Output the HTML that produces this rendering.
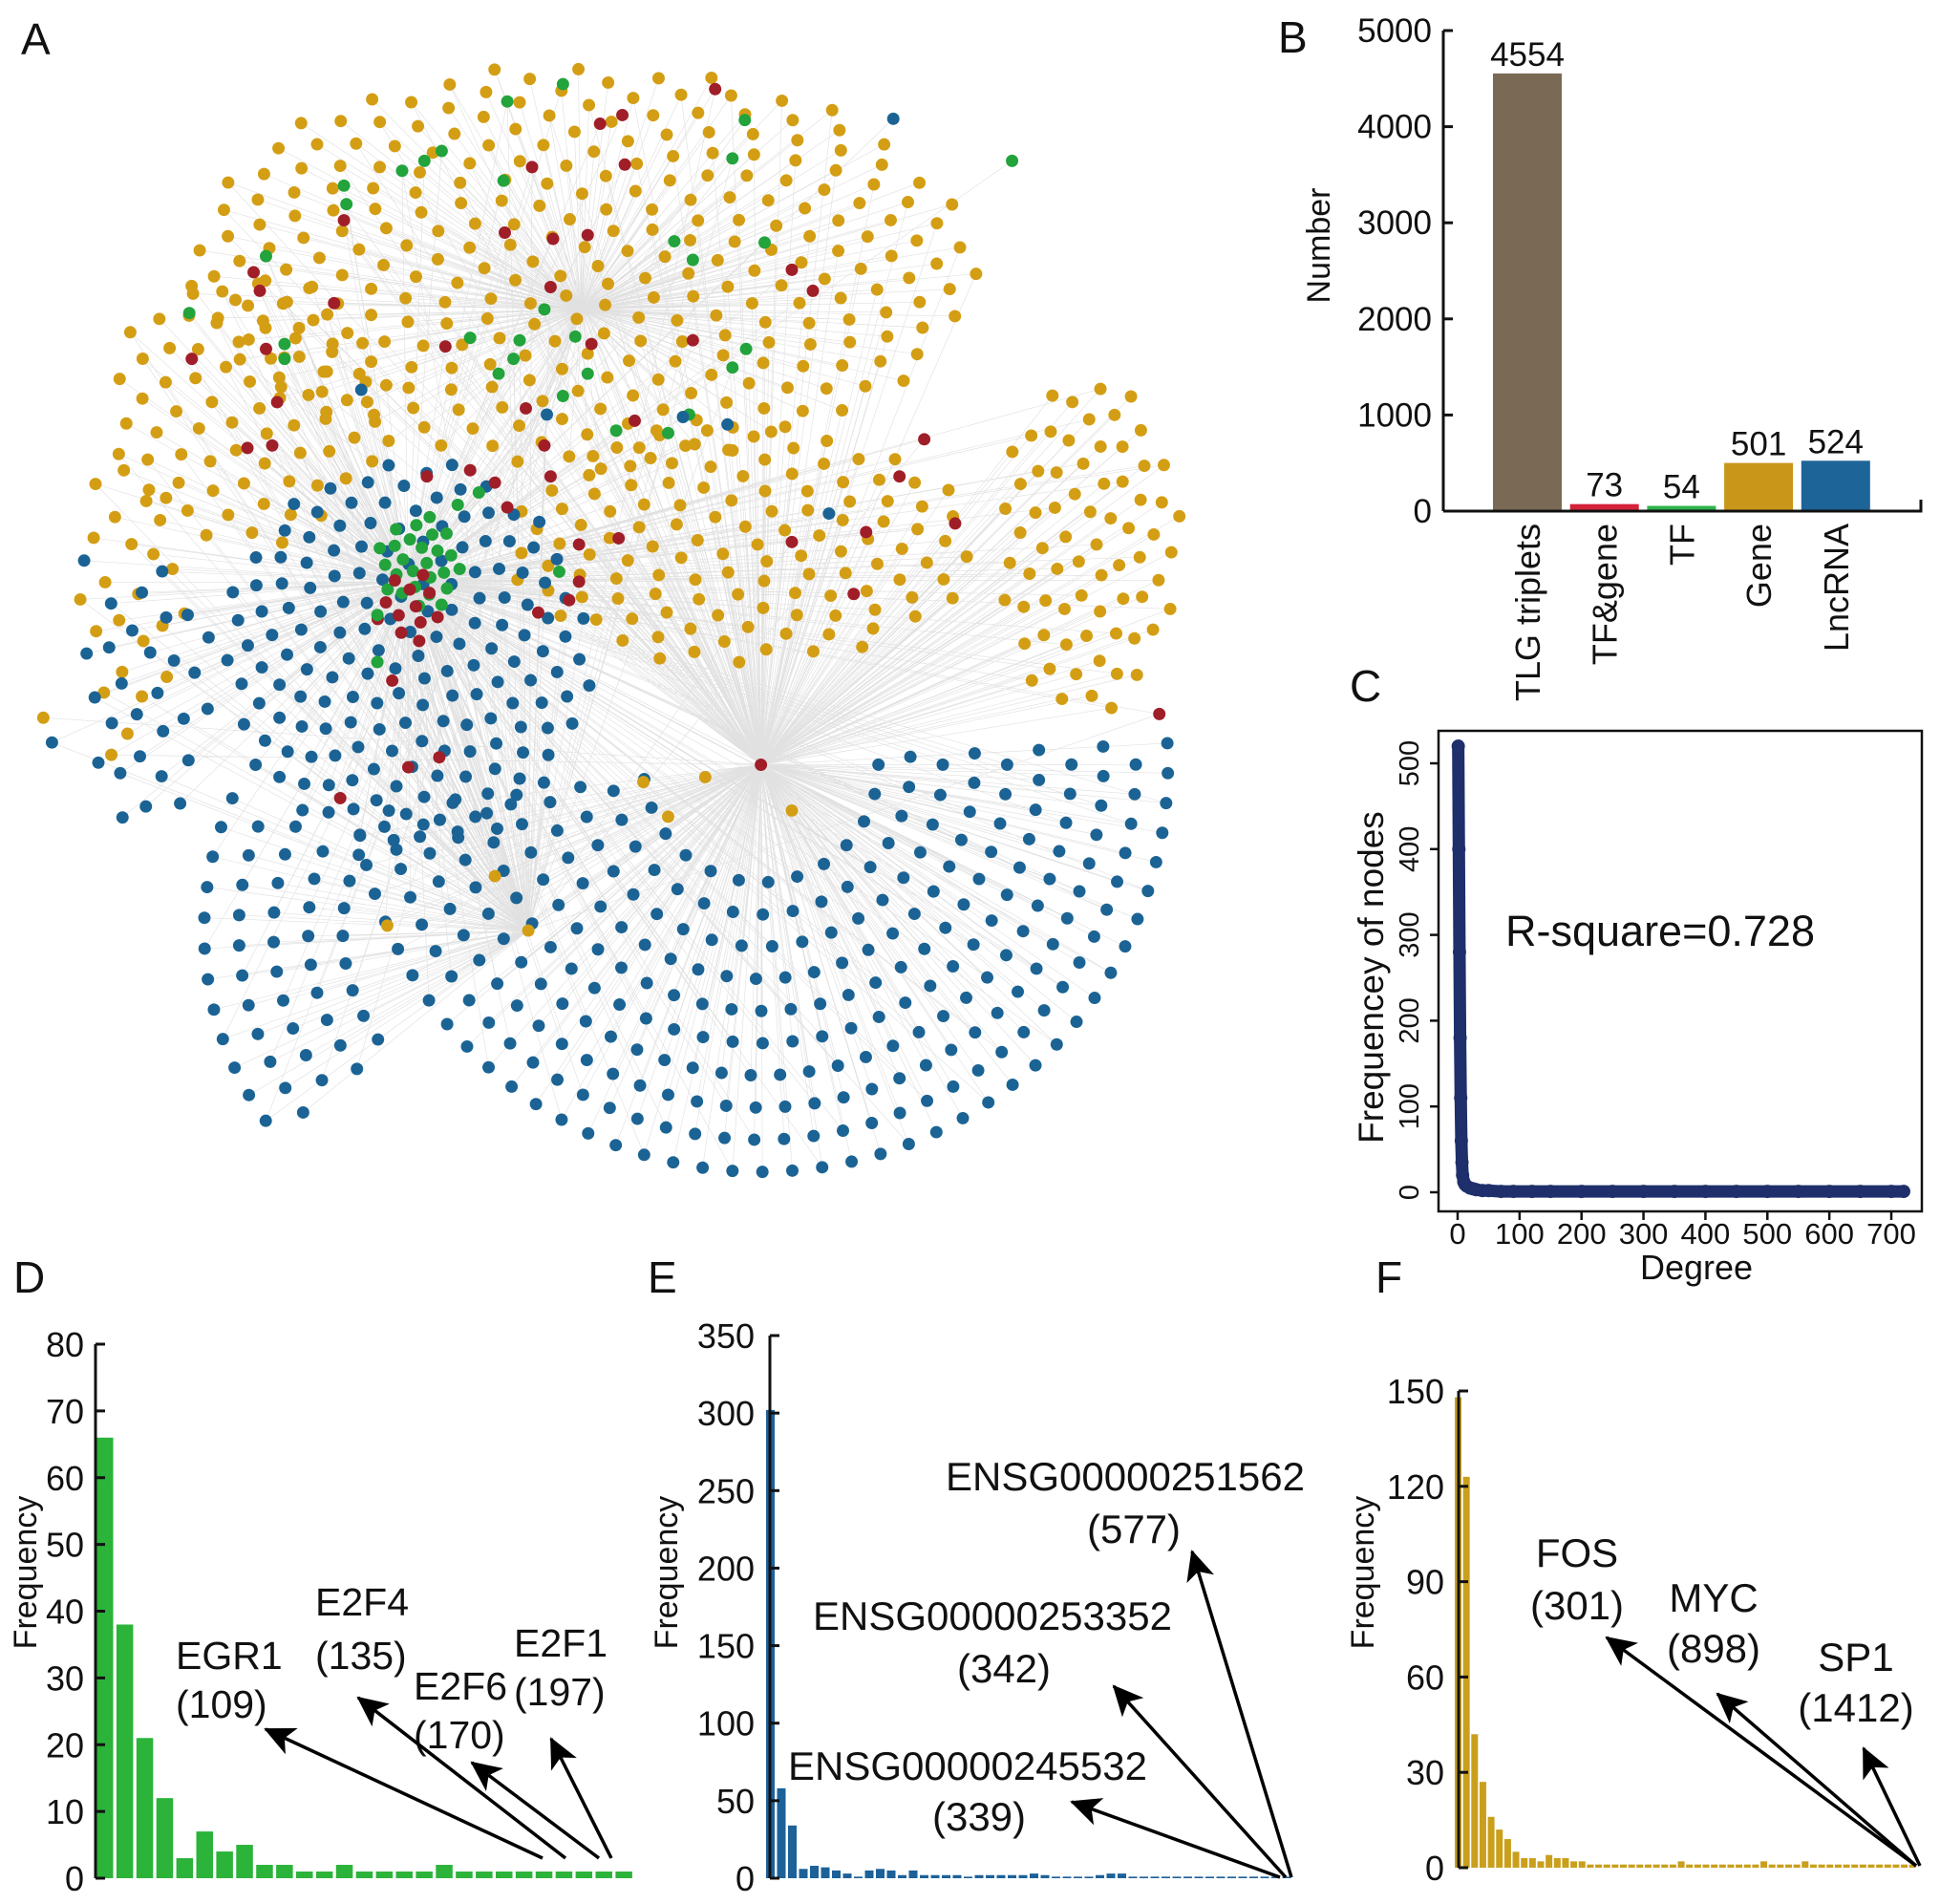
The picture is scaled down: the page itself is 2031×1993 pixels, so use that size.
<!DOCTYPE html>
<html><head><meta charset="utf-8"><style>
html,body{margin:0;padding:0;background:#fff;}
svg{display:block;font-family:"Liberation Sans",Arial,sans-serif;}
</style></head><body>
<svg id="fig" width="2031" height="1993" viewBox="0 0 2031 1993" xmlns="http://www.w3.org/2000/svg">
<defs>
<marker id="ah" markerUnits="userSpaceOnUse" markerWidth="34" markerHeight="30" refX="30" refY="15" orient="auto"><path d="M0,0 L32,15 L0,30 L8,15 Z" fill="#000"/></marker>
</defs>
<g id="panelA">
<g id="netEdges" transform="scale(1.2953)"></g>
<g id="netNodes" transform="scale(1.2953)"></g>
</g>
<g font-size="46" fill="#111">
<text x="22" y="57">A</text>
<text x="1338" y="55">B</text>
<text x="1413" y="734">C</text>
<text x="14" y="1353">D</text>
<text x="678" y="1353">E</text>
<text x="1440" y="1353">F</text>
</g>
<g id="panelB"></g>
<g id="panelC"></g>
<g id="panelD"></g>
<g id="panelE"></g>
<g id="panelF"></g>
</svg>
<script>
// ---------- Panel B data ----------
const bCategories = ["TLG triplets","TF&gene","TF","Gene","LncRNA"];
const bValues = [4554,73,54,501,524];
const bTicks = [0,1000,2000,3000,4000,5000];
// ---------- Panel C data ----------
const cDegree = [1,2,3,4,5,6,7,8,10,12,15,20,25,30,40,50,70,90,120,150,200,250,300,350,400,450,500,550,600,650,700,720];
const cFreq =   [520,400,280,180,110,60,35,20,12,9,7,5,4,3,2,2,1,1,1,1,1,1,1,1,1,1,1,1,1,1,1,1];
const cXTicks = [0,100,200,300,400,500,600,700];
const cYTicks = [0,100,200,300,400,500];
// ---------- Panel D data ----------
const dValues = [66,38,21,12,3,7,4,5,2,2,1,1,2,1,1,1,1,2,1,1,1,1,1,1,1,1,1];
const dTicks = [0,10,20,30,40,50,60,70,80];
// ---------- Panel E data ----------
const eValues = [302,58,34,6,8,7,5,3,1,5,6,5,2,5,2,2,2,2,1,2,2,2,2,2,3,2,1,1,1,1,2,3,3,1,1,1,1,1,1,1,1,1,1,1,1,1,1,1];
const eTicks = [0,50,100,150,200,250,300,350];
// ---------- Panel F data ----------
const fValues = [148,123,42,27,16,12,9,5,3,3,2,4,3,3,2,2,1,1,1,1,1,1,1,1,1,1,1,2,1,1,1,1,1,1,1,1,1,2,1,1,1,1,2,1,1,1,1,1,1,1,1,1,1,1,1,1];
const fTicks = [0,30,60,90,120,150];

const NS = "http://www.w3.org/2000/svg";
function mk(tag, attrs, parent){
  const e = document.createElementNS(NS, tag);
  for (const k in attrs) e.setAttribute(k, attrs[k]);
  parent.appendChild(e);
  return e;
}
function txt(parent, x, y, s, size, anchor, name, extra){
  const t = mk("text", Object.assign({x:x, y:y, "font-size":size, "text-anchor":anchor||"start", fill:"#111"}, extra||{}), parent);
  t.textContent = s;
  
  
  return t;
}

// ---------- Panel B ----------
(function(){
  const g = document.getElementById("panelB");
  const ax = 1511, y0 = 535, y5k = 32;
  const yS = v => y0 - v/5000*(y0-y5k);
  const colors = ["#7a6a55","#d4223a","#2cb34a","#c9961a","#1d6499"];
  const x0 = 1563, pitch = 80.7, bw = 72;
  bValues.forEach((v,i)=>{
    const r = mk("rect",{x:x0+i*pitch, y:yS(v), width:bw, height:y0-yS(v), fill:colors[i]}, g);
    
    
    txt(g, x0+i*pitch+bw/2, yS(v)-8, String(v), 35, "middle", "bar-value-label");
    txt(g, x0+i*pitch+bw/2+13, 548, bCategories[i], 36, "end", "category-label", {transform:`rotate(-90 ${x0+i*pitch+bw/2+13} 548)`});
  });
  const yl = mk("line",{x1:ax,y1:y5k,x2:ax,y2:y0,stroke:"#111","stroke-width":3}, g);
  
  
  const xl = mk("path",{d:`M${ax},${y0} L2011,${y0} L2011,${y0-12}`,stroke:"#111","stroke-width":3,fill:"none"}, g);
  
  
  bTicks.forEach(t=>{
    mk("line",{x1:ax,y1:yS(t),x2:ax+10,y2:yS(t),stroke:"#111","stroke-width":3}, g);
    txt(g, ax-12, yS(t)+12, String(t), 35, "end", "y-tick-label");
  });
  txt(g, 1392, 257, "Number", 34, "middle", "y-axis-title", {transform:"rotate(-90 1392 257)"});
})();

// ---------- Panel C ----------
(function(){
  const g = document.getElementById("panelC");
  const L=1506,R=2012,T=765,B=1268;
  const xS = d => 1526 + d*(1980-1526)/700;
  const yS = v => 1248 - v*(1248-799)/500;
  const box = mk("rect",{x:L,y:T,width:R-L,height:B-T,fill:"none",stroke:"#111","stroke-width":2.5}, g);
  
  
  cXTicks.forEach(t=>{
    mk("line",{x1:xS(t),y1:B,x2:xS(t),y2:B+9,stroke:"#111","stroke-width":2.5}, g);
    txt(g, xS(t), 1302, String(t), 31, "middle", "x-tick-label");
  });
  cYTicks.forEach(t=>{
    mk("line",{x1:L-9,y1:yS(t),x2:L,y2:yS(t),stroke:"#111","stroke-width":2.5}, g);
    txt(g, 1485, yS(t), String(t), 29, "middle", "y-tick-label", {transform:`rotate(-90 1485 ${yS(t)})`});
  });
  const pts = cDegree.map((d,i)=>xS(d)+","+yS(cFreq[i])).join(" ");
  const pl = mk("polyline",{points:pts,fill:"none",stroke:"#1f2f6b","stroke-width":13,"stroke-linecap":"round","stroke-linejoin":"round"}, g);
  
  
  cDegree.forEach((d,i)=>{
    const c = mk("circle",{cx:xS(d),cy:yS(cFreq[i]),r:7,fill:"#1f2f6b"}, g);
    
    
  });
  txt(g, 1576, 990, "R-square=0.728", 45, "start", "r-square-annotation");
  txt(g, 1776, 1339, "Degree", 36, "middle", "x-axis-title");
  txt(g, 1448, 1023, "Frequencey of nodes", 37, "middle", "y-axis-title", {transform:"rotate(-90 1448 1023)"});
})();

// ---------- Histogram helper ----------
function hist(gid, vals, ticks, axX, y0, yTop, tMax, x0, pitch, bw, color, labX, titleX){
  const g = document.getElementById(gid);
  const yS = v => y0 - v/tMax*(y0-yTop);
  vals.forEach((v,i)=>{
    const h = Math.max(y0-yS(v), 0);
    const r = mk("rect",{x:x0+i*pitch, y:y0-h, width:bw, height:h, fill:color}, g);
    
    
  });
  const al = mk("line",{x1:axX,y1:yTop,x2:axX,y2:y0,stroke:"#111","stroke-width":3}, g);
  
  
  ticks.forEach(t=>{
    mk("line",{x1:axX,y1:yS(t),x2:axX+10,y2:yS(t),stroke:"#111","stroke-width":3}, g);
    txt(g, labX, yS(t)+13, String(t), 36, "end", "y-tick-label");
  });
  txt(g, titleX, 1646, "Frequency", 34, "middle", "y-axis-title", {transform:`rotate(-90 ${titleX} 1646)`});
  return g;
}
function arrow(g, x1,y1,x2,y2){
  const a = mk("line",{x1:x1,y1:y1,x2:x2,y2:y2,stroke:"#000","stroke-width":3.5,"marker-end":"url(#ah)"}, g);
  
  
}

// Panel D
(function(){
  const g = hist("panelD", dValues, dTicks, 100, 1966, 1407, 80, 101, 20.9, 17.5, "#2bb33a", 88, 38);
  txt(g,184,1747,"EGR1",41,"start","annotation-egr1"); txt(g,184,1798,"(109)",41,"start","annotation-egr1-degree");
  txt(g,330,1691,"E2F4",41,"start","annotation-e2f4"); txt(g,330,1747,"(135)",41,"start","annotation-e2f4-degree");
  txt(g,433,1779,"E2F6",41,"start","annotation-e2f6"); txt(g,433,1830,"(170)",41,"start","annotation-e2f6-degree");
  txt(g,538,1734,"E2F1",41,"start","annotation-e2f1"); txt(g,538,1785,"(197)",41,"start","annotation-e2f1-degree");
  arrow(g,568,1945,278,1810); arrow(g,592,1945,375,1777); arrow(g,627,1945,494,1845); arrow(g,640,1945,577,1820);
})();
// Panel E
(function(){
  const g = hist("panelE", eValues, eTicks, 806, 1966, 1398, 350, 802, 11.5, 9, "#1d6199", 790, 709);
  txt(g,990,1560,"ENSG00000251562",42,"start","annotation-ensg251562"); txt(g,1187,1615,"(577)",42,"middle","annotation-ensg251562-degree");
  txt(g,851,1706,"ENSG00000253352",42,"start","annotation-ensg253352"); txt(g,1051,1761,"(342)",42,"middle","annotation-ensg253352-degree");
  txt(g,825,1863,"ENSG00000245532",42,"start","annotation-ensg245532"); txt(g,1025,1916,"(339)",42,"middle","annotation-ensg245532-degree");
  arrow(g,1352,1965,1248,1624); arrow(g,1346,1965,1166,1765); arrow(g,1340,1965,1122,1886);
})();
// Panel F
(function(){
  const g = hist("panelF", fValues, fTicks, 1527, 1955, 1456, 150, 1523, 8.65, 7, "#c99f1c", 1512, 1438);
  txt(g,1651,1640,"FOS",42,"middle","annotation-fos"); txt(g,1651,1695,"(301)",42,"middle","annotation-fos-degree");
  txt(g,1794,1687,"MYC",42,"middle","annotation-myc"); txt(g,1794,1740,"(898)",42,"middle","annotation-myc-degree");
  txt(g,1943,1749,"SP1",42,"middle","annotation-sp1"); txt(g,1943,1802,"(1412)",42,"middle","annotation-sp1-degree");
  arrow(g,2006,1953,1682,1714); arrow(g,2006,1953,1798,1773); arrow(g,2010,1953,1951,1830);
})();

// ---------- Panel A network (layout coordinates in display units) ----------
const YEL="#d49e14", BLU="#1b6394", RED="#a01e28", GRN="#22a33c";
const hubs = [[615,618],[330,470],[427,752],[470,250]];
const blobs = [
  [470,215,320,165,290,YEL,3],
  [200,330,115,115,70,YEL,1],
  [880,440,75,140,70,YEL,0],
  [600,440,190,100,120,YEL,0],
  [105,480,45,120,22,YEL,1],
  [330,530,150,160,170,BLU,1],
  [120,560,55,110,28,BLU,1],
  [340,455,35,40,26,GRN,1],
  [330,490,30,30,12,RED,1]
];
const arcs = [
  [615,618,95,335,26,-5,168,BLU,0],
  [427,752,150,280,28,140,200,BLU,2]
];
const redPts = [[578,72],[485,100],[503,93],[430,135],[505,133],[278,178],[408,188],[447,193],[205,220],[210,235],[270,245],[215,282],[155,290],[224,325],[200,362],[220,360],[360,280],[478,278],[560,275],[640,218],[657,235],[445,232],[475,190],[425,330],[440,360],[345,385],[380,380],[400,390],[410,410],[445,385],[468,440],[500,435],[468,470],[460,485],[435,495],[317,550],[330,620],[355,612],[275,645],[640,438],[700,430],[772,423],[747,355],[727,385],[690,480],[937,577],[513,340]];
const greenPts = [[455,68],[410,82],[343,130],[357,122],[325,138],[278,150],[280,165],[215,207],[153,253],[230,278],[230,290],[407,146],[602,97],[592,128],[618,196],[545,195],[560,210],[440,250],[465,272],[420,275],[380,273],[403,302],[415,290],[475,302],[455,320],[592,297],[603,282],[557,335],[540,350],[498,348],[818,130],[387,398],[370,408],[452,462],[305,535],[305,497]];
const bluePts = [[722,96],[292,315],[552,337],[588,343],[442,335],[670,415],[68,453],[42,600]];
const yelPts = [[35,580],[90,610],[640,655],[427,752],[313,748],[400,708],[520,632],[540,660],[570,628]];

(function(){
  const E = document.getElementById("netEdges"), N = document.getElementById("netNodes");
  const nodes = [];
  blobs.forEach(b=>{
    for(let i=0;i<b[4];i++){
      const rr = Math.sqrt((i+0.5)/b[4]), th = i*2.39996;
      nodes.push([b[0]+b[2]*rr*Math.cos(th), b[1]+b[3]*rr*Math.sin(th), b[5], b[6]]);
    }
  });
  arcs.forEach(a=>{
    for(let r=a[2]; r<=a[3]; r+=a[4]){
      const n = Math.max(2, Math.round(r*(a[6]-a[5])*Math.PI/180/24));
      for(let k=0;k<=n;k++){
        const ang = (a[5] + (a[6]-a[5])*k/n + (r/a[4]%2)*3)*Math.PI/180;
        nodes.push([a[0]+r*Math.cos(ang), a[1]+r*Math.sin(ang), a[7], a[8]]);
      }
    }
  });
  redPts.forEach(p=>nodes.push([p[0],p[1],RED,1]));
  greenPts.forEach(p=>nodes.push([p[0],p[1],GRN,1]));
  bluePts.forEach(p=>nodes.push([p[0],p[1],BLU,1]));
  yelPts.forEach(p=>nodes.push([p[0],p[1],YEL,0]));
  let d = "";
  nodes.forEach((n,i)=>{
    const h = hubs[n[3]];
    d += `M${h[0].toFixed(1)},${h[1].toFixed(1)}L${n[0].toFixed(1)},${n[1].toFixed(1)}`;
    if(i%3===0){ const h2 = hubs[(n[3]+1)%4]; d += `M${h2[0]},${h2[1]}L${n[0].toFixed(1)},${n[1].toFixed(1)}`; }
  });
  const p = mk("path",{d:d,stroke:"#c8c8c8","stroke-width":0.5,fill:"none",opacity:0.55}, E);
  
  
  nodes.forEach(n=>{
    const c = mk("circle",{cx:n[0].toFixed(1),cy:n[1].toFixed(1),r:5,fill:n[2]}, N);
    
    
  });
  const hc = mk("circle",{cx:615,cy:618,r:5,fill:RED}, N);
  
  
})();
</script>
</body></html>
